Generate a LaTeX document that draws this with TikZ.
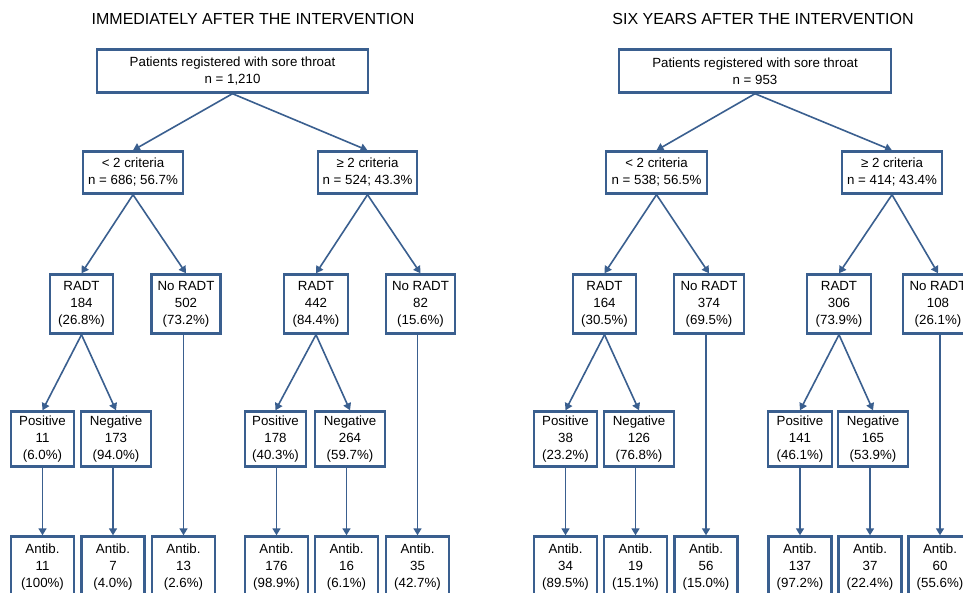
\documentclass[tikz,border=0pt]{standalone}
\usepackage{fontspec}
\setmainfont{Liberation Sans}
\usetikzlibrary{arrows.meta}
\definecolor{boxblue}{RGB}{58,95,143}
\begin{document}
\begin{tikzpicture}[x=1pt,y=-1pt,
  box/.style={draw=boxblue, line width=2.4pt, fill=white, inner sep=0pt, align=center,
    font=\fontsize{13.3}{17}\selectfont, text=black},
  conn/.style={draw=boxblue, line width=1.6pt, -{Triangle[length=7pt,width=8pt]}},
  ttl/.style={font=\fontsize{16}{19}\selectfont, text=black},
  toprow/.style={box, minimum height=43pt},
  critrow/.style={box, minimum height=42pt},
  radtrow/.style={box, minimum height=59pt},
  pnrow/.style={box, minimum height=55pt},
  abrow/.style={box, minimum height=62pt, minimum width=63pt}]
\useasboundingbox (0,0) rectangle (963,592);
\fill[white] (0,0) rectangle (963,592);

% ---------- Left panel ----------
\node[ttl] (tL) at (253,19) {IMMEDIATELY AFTER THE INTERVENTION};
\node[toprow, minimum width=271pt] (topL) at (232.5,71) {Patients registered with sore throat\\ n = 1,210};
\node[critrow, minimum width=100pt] (cL1) at (133,172.5) {< 2 criteria\\ n = 686; 56.7\%};
\node[critrow, minimum width=99pt] (cL2) at (367.5,172.5) {≥ 2 criteria\\ n = 524; 43.3\%};
\node[radtrow, minimum width=63pt] (rL1) at (81.5,304) {RADT\\ 184\\ (26.8\%)};
\node[radtrow, minimum width=69pt] (nL1) at (186,304) {No RADT\\ 502\\ (73.2\%)};
\node[radtrow, minimum width=64pt] (rL2) at (316,304) {RADT\\ 442\\ (84.4\%)};
\node[radtrow, minimum width=69pt] (nL2) at (420.5,304) {No RADT\\ 82\\ (15.6\%)};
\node[pnrow, minimum width=63pt] (pL1) at (42.5,439) {Positive\\ 11\\ (6.0\%)};
\node[pnrow, minimum width=70pt] (gL1) at (116,439) {Negative\\ 173\\ (94.0\%)};
\node[pnrow, minimum width=61pt] (pL2) at (275.5,439) {Positive\\ 178\\ (40.3\%)};
\node[pnrow, minimum width=70pt] (gL2) at (350,439) {Negative\\ 264\\ (59.7\%)};
\node[abrow] (aL1) at (42.5,567.5) {Antib.\\ 11\\ (100\%)};
\node[abrow] (aL2) at (113,567.5) {Antib.\\ 7\\ (4.0\%)};
\node[abrow] (aL3) at (183.5,567.5) {Antib.\\ 13\\ (2.6\%)};
\node[abrow] (aL4) at (276.5,567.5) {Antib.\\ 176\\ (98.9\%)};
\node[abrow] (aL5) at (346.5,567.5) {Antib.\\ 16\\ (6.1\%)};
\node[abrow] (aL6) at (417.5,567.5) {Antib.\\ 35\\ (42.7\%)};

\draw[conn] (topL.south) -- (cL1.north);
\draw[conn] (topL.south) -- (cL2.north);
\draw[conn] (cL1.south) -- (rL1.north);
\draw[conn] (cL1.south) -- (nL1.north);
\draw[conn] (cL2.south) -- (rL2.north);
\draw[conn] (cL2.south) -- (nL2.north);
\draw[conn] (rL1.south) -- (pL1.north);
\draw[conn] (rL1.south) -- (gL1.north);
\draw[conn] (rL2.south) -- (pL2.north);
\draw[conn] (rL2.south) -- (gL2.north);
\draw[conn] (aL1.north |- pL1.south) -- (aL1.north);
\draw[conn] (aL2.north |- gL1.south) -- (aL2.north);
\draw[conn] (aL3.north |- nL1.south) -- (aL3.north);
\draw[conn] (aL4.north |- pL2.south) -- (aL4.north);
\draw[conn] (aL5.north |- gL2.south) -- (aL5.north);
\draw[conn] (aL6.north |- nL2.south) -- (aL6.north);

% ---------- Right panel ----------
\node[ttl] (tR) at (763,19) {SIX YEARS AFTER THE INTERVENTION};
\node[toprow, minimum width=272pt] (topR) at (755,71) {Patients registered with sore throat\\ n = 953};
\node[critrow, minimum width=101pt] (cR1) at (656.5,172.5) {< 2 criteria\\ n = 538; 56.5\%};
\node[critrow, minimum width=100pt] (cR2) at (892,172.5) {≥ 2 criteria\\ n = 414; 43.4\%};
\node[radtrow, minimum width=63pt] (rR1) at (604.5,304) {RADT\\ 164\\ (30.5\%)};
\node[radtrow, minimum width=70pt] (nR1) at (709,304) {No RADT\\ 374\\ (69.5\%)};
\node[radtrow, minimum width=64pt] (rR2) at (839,304) {RADT\\ 306\\ (73.9\%)};
\node[radtrow, minimum width=70pt] (nR2) at (938,304) {No RADT\\ 108\\ (26.1\%)};
\node[pnrow, minimum width=63pt] (pR1) at (565.5,439) {Positive\\ 38\\ (23.2\%)};
\node[pnrow, minimum width=70pt] (gR1) at (639,439) {Negative\\ 126\\ (76.8\%)};
\node[pnrow, minimum width=64pt] (pR2) at (800,439) {Positive\\ 141\\ (46.1\%)};
\node[pnrow, minimum width=70pt] (gR2) at (873,439) {Negative\\ 165\\ (53.9\%)};
\node[abrow] (aR1) at (565.5,567.5) {Antib.\\ 34\\ (89.5\%)};
\node[abrow] (aR2) at (635.5,567.5) {Antib.\\ 19\\ (15.1\%)};
\node[abrow] (aR3) at (706,567.5) {Antib.\\ 56\\ (15.0\%)};
\node[abrow] (aR4) at (800,567.5) {Antib.\\ 137\\ (97.2\%)};
\node[abrow] (aR5) at (870,567.5) {Antib.\\ 37\\ (22.4\%)};
\node[abrow] (aR6) at (940,567.5) {Antib.\\ 60\\ (55.6\%)};

\draw[conn] (topR.south) -- (cR1.north);
\draw[conn] (topR.south) -- (cR2.north);
\draw[conn] (cR1.south) -- (rR1.north);
\draw[conn] (cR1.south) -- (nR1.north);
\draw[conn] (cR2.south) -- (rR2.north);
\draw[conn] (cR2.south) -- (nR2.north);
\draw[conn] (rR1.south) -- (pR1.north);
\draw[conn] (rR1.south) -- (gR1.north);
\draw[conn] (rR2.south) -- (pR2.north);
\draw[conn] (rR2.south) -- (gR2.north);
\draw[conn] (aR1.north |- pR1.south) -- (aR1.north);
\draw[conn] (aR2.north |- gR1.south) -- (aR2.north);
\draw[conn] (aR3.north |- nR1.south) -- (aR3.north);
\draw[conn] (aR4.north |- pR2.south) -- (aR4.north);
\draw[conn] (aR5.north |- gR2.south) -- (aR5.north);
\draw[conn] (aR6.north |- nR2.south) -- (aR6.north);
\end{tikzpicture}
\end{document}
